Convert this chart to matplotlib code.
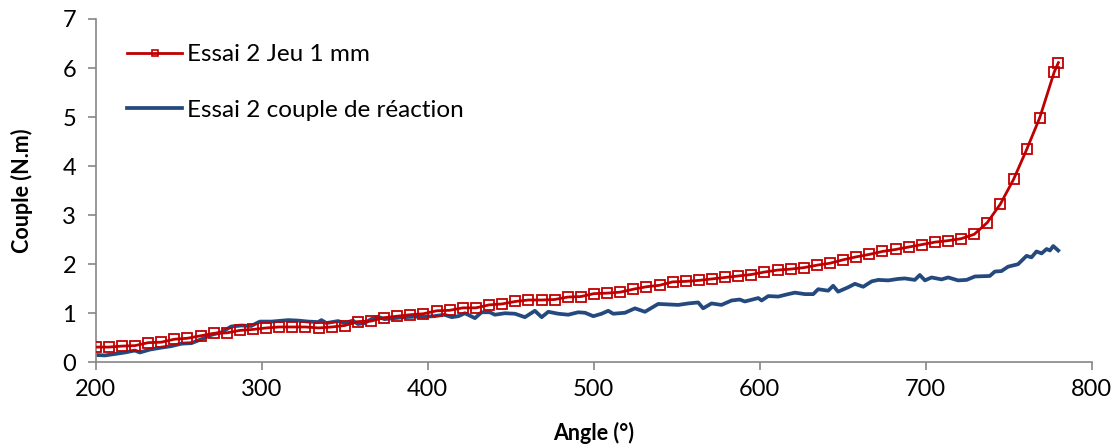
import matplotlib
matplotlib.use("Agg")
import matplotlib.pyplot as plt
from matplotlib.lines import Line2D

plt.rcParams['font.family'] = ['Lato', 'DejaVu Sans']

# Red series: "Essai 2 Jeu 1 mm"
angle_jeu = [200.0, 207.9, 215.8, 223.7, 231.6, 239.5, 247.4, 255.3, 263.2, 271.1,
             279.0, 286.9, 294.8, 302.7, 310.6, 318.5, 326.4, 334.3, 342.2, 350.1,
             358.0, 365.9, 373.8, 381.7, 389.6, 397.5, 405.4, 413.3, 421.2, 429.1,
             437.0, 444.9, 452.8, 460.7, 468.6, 476.5, 484.4, 492.3, 500.2, 508.1,
             516.0, 523.9, 531.8, 539.7, 547.6, 555.5, 563.4, 571.3, 579.2, 587.1,
             595.0, 602.9, 610.8, 618.7, 626.6, 634.5, 642.4, 650.3, 658.2, 666.1,
             674.0, 681.9, 689.8, 697.7, 705.6, 713.5, 721.4, 729.3, 737.2, 745.1,
             753.0, 760.9, 768.8, 777.5, 780.0]
couple_jeu = [0.31, 0.31, 0.33, 0.34, 0.40, 0.41, 0.47, 0.49, 0.54, 0.59,
              0.60, 0.65, 0.67, 0.70, 0.72, 0.72, 0.72, 0.70, 0.72, 0.75,
              0.83, 0.84, 0.91, 0.94, 0.97, 0.99, 1.05, 1.06, 1.11, 1.11,
              1.17, 1.19, 1.24, 1.27, 1.27, 1.28, 1.33, 1.34, 1.40, 1.41,
              1.43, 1.49, 1.54, 1.57, 1.64, 1.65, 1.67, 1.70, 1.73, 1.76,
              1.79, 1.84, 1.88, 1.90, 1.93, 1.98, 2.02, 2.09, 2.15, 2.20,
              2.26, 2.30, 2.35, 2.40, 2.45, 2.48, 2.52, 2.61, 2.85, 3.23,
              3.73, 4.34, 4.99, 5.92, 6.11]

# Blue series: "Essai 2 couple de réaction"
angle_reac = [199.6, 205.6, 211.6, 217.6, 223.6, 226.6, 232.7, 239.7, 245.7, 251.7,
              257.7, 263.7, 269.7, 275.7, 281.7, 287.7, 293.7, 297.7, 299.0, 306.0,
              316.0, 322.0, 328.0, 334.0, 336.0, 339.0, 346.0, 350.0, 355.0, 358.0,
              362.0, 366.0, 370.0, 374.0, 380.0, 386.0, 392.0, 398.0, 404.0, 410.0,
              414.5, 418.5, 422.5, 428.5, 432.5, 437.5, 440.5, 446.6, 452.6, 458.6,
              464.6, 468.7, 472.7, 478.7, 484.7, 490.7, 494.8, 499.8, 504.8, 508.8,
              511.8, 518.9, 524.9, 530.9, 538.9, 544.9, 551.0, 557.0, 563.0, 566.0,
              571.0, 577.0, 583.1, 588.0, 591.1, 599.2, 601.2, 605.2, 611.2, 617.2,
              621.3, 627.3, 632.3, 635.3, 641.3, 644.3, 647.3, 653.4, 657.4, 662.4,
              667.5, 671.5, 677.5, 683.5, 687.5, 693.5, 696.5, 699.6, 703.6, 709.6,
              713.6, 719.6, 724.7, 729.7, 738.7, 741.7, 745.7, 749.7, 755.7, 760.8,
              763.8, 766.8, 769.9, 772.9, 774.9, 776.9, 779.9]
couple_reac = [0.15, 0.14, 0.17, 0.20, 0.24, 0.20, 0.26, 0.30, 0.33, 0.38,
               0.39, 0.47, 0.56, 0.61, 0.73, 0.75, 0.74, 0.81, 0.83, 0.83,
               0.86, 0.85, 0.83, 0.82, 0.86, 0.80, 0.84, 0.80, 0.85, 0.78,
               0.80, 0.88, 0.93, 0.88, 0.90, 0.92, 0.93, 0.93, 0.94, 0.97,
               0.92, 0.94, 1.00, 0.90, 1.02, 1.02, 0.97, 1.00, 0.99, 0.92,
               1.05, 0.92, 1.03, 0.99, 0.97, 1.02, 1.01, 0.94, 0.99, 1.05,
               0.99, 1.01, 1.10, 1.03, 1.19, 1.18, 1.17, 1.20, 1.22, 1.10,
               1.20, 1.17, 1.26, 1.28, 1.24, 1.31, 1.26, 1.35, 1.34, 1.39,
               1.42, 1.39, 1.39, 1.49, 1.46, 1.56, 1.44, 1.53, 1.60, 1.54,
               1.65, 1.68, 1.67, 1.70, 1.71, 1.68, 1.78, 1.67, 1.73, 1.69,
               1.73, 1.67, 1.68, 1.75, 1.76, 1.85, 1.86, 1.95, 2.00, 2.17,
               2.14, 2.26, 2.22, 2.31, 2.28, 2.37, 2.28]

x_ticks = [200, 300, 400, 500, 600, 700, 800]
y_ticks = [0, 1, 2, 3, 4, 5, 6, 7]
label_jeu = "Essai 2 Jeu 1 mm"
label_reac = "Essai 2 couple de réaction"

red = "#C00000"
blue = "#24497E"
gray = "#868686"

fig = plt.figure(figsize=(11.15, 4.46), dpi=100)
ax = fig.add_axes([0.0858, 0.1877, 0.979 - 0.0858, 0.9574 - 0.1877])

ax.plot(angle_reac, couple_reac, color=blue, lw=2.7, solid_joinstyle='round', zorder=2)
ax.plot(angle_jeu, couple_jeu, color=red, lw=2.0, marker='s', markersize=7.5,
        markerfacecolor='none', markeredgecolor=red, markeredgewidth=1.3, zorder=3)

ax.set_xlim(200, 800)
ax.set_ylim(0, 7)
ax.set_xticks(x_ticks)
ax.set_yticks(y_ticks)
for s in ['top', 'right']:
    ax.spines[s].set_visible(False)
for s in ['left', 'bottom']:
    ax.spines[s].set_color(gray)
    ax.spines[s].set_linewidth(1.2)
ax.tick_params(axis='both', direction='out', length=6, width=1.2, color=gray,
               labelsize=17, labelcolor='black')
ax.tick_params(axis='x', pad=6)
ax.tick_params(axis='y', pad=8)

ax.set_xlabel("Angle (°)", fontsize=15.5, fontweight='bold', labelpad=16)
ax.set_ylabel("Couple (N.m)", fontsize=15.5, fontweight='bold', labelpad=21)

h1 = Line2D([], [], color=red, lw=2.0, marker='s', markersize=5,
            markerfacecolor='none', markeredgecolor=red, markeredgewidth=1.2)
h2 = Line2D([], [], color=blue, lw=2.7)
leg = ax.legend([h1, h2], [label_jeu, label_reac], loc='upper left',
                bbox_to_anchor=(0.022, 0.955), frameon=False, fontsize=17.5,
                handlelength=2.25, handletextpad=0.2, labelspacing=1.42,
                borderaxespad=0.0)

fig.savefig("out.png", dpi=100)
